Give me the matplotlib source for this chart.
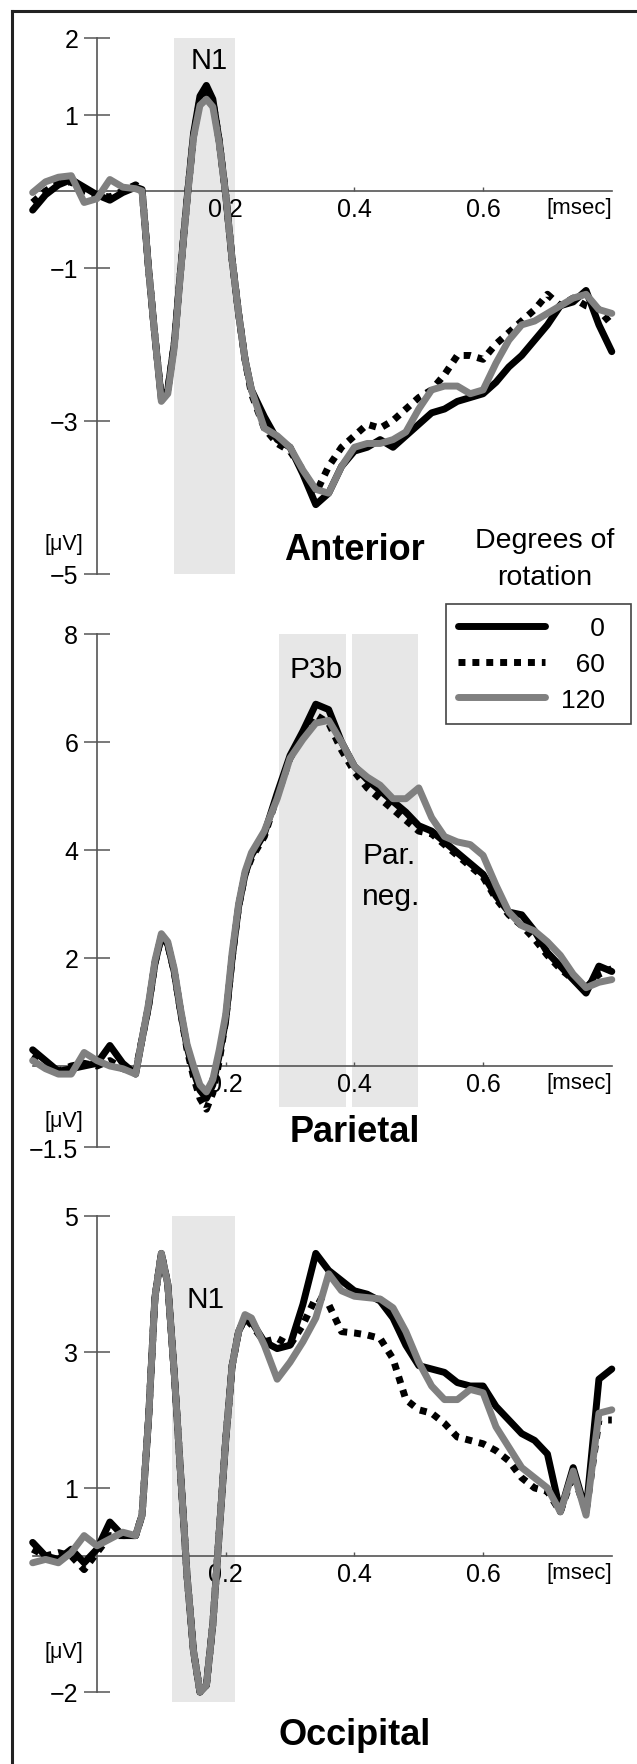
import matplotlib
matplotlib.use("Agg")
import matplotlib.pyplot as plt
from matplotlib.lines import Line2D

plt.rcParams['font.family'] = ['Liberation Sans', 'DejaVu Sans']

# time axis [s], shared by the three panels
t = [-0.10, -0.08, -0.06, -0.04, -0.02, 0.00, 0.02, 0.04, 0.06, 0.07,
     0.08, 0.09, 0.10, 0.11, 0.12, 0.13, 0.14, 0.15, 0.16, 0.17,
     0.18, 0.19, 0.20, 0.21, 0.22, 0.23, 0.24, 0.26, 0.28, 0.30,
     0.32, 0.34, 0.36, 0.38, 0.40, 0.42, 0.44, 0.46, 0.48, 0.50,
     0.52, 0.54, 0.56, 0.58, 0.60, 0.62, 0.64, 0.66, 0.68, 0.70,
     0.72, 0.74, 0.76, 0.78, 0.80]

rotations = ['0', '60', '120']

# Anterior [uV]
ant_0 = [-0.25, -0.05, 0.08, 0.15, 0.05, -0.05, -0.12, -0.02, 0.05, 0.02,
         -1.0, -1.9, -2.72, -2.6, -2.0, -1.03, -0.1, 0.75, 1.24, 1.38,
         1.2, 0.65, -0.05, -0.9, -1.6, -2.2, -2.6, -2.95, -3.25, -3.35,
         -3.7, -4.1, -3.95, -3.6, -3.4, -3.35, -3.25, -3.35, -3.2, -3.05,
         -2.9, -2.85, -2.75, -2.7, -2.65, -2.5, -2.3, -2.15, -1.95, -1.75,
         -1.5, -1.45, -1.3, -1.75, -2.1]
ant_60 = [-0.15, 0.0, 0.1, 0.12, 0.0, -0.05, -0.08, 0.0, 0.08, 0.02,
          -1.0, -1.9, -2.7, -2.6, -2.0, -1.03, -0.1, 0.72, 1.2, 1.33,
          1.18, 0.65, -0.05, -0.9, -1.6, -2.2, -2.65, -3.1, -3.3, -3.4,
          -3.65, -3.95, -3.6, -3.35, -3.2, -3.05, -3.1, -3.0, -2.85, -2.7,
          -2.6, -2.4, -2.15, -2.15, -2.2, -2.0, -1.85, -1.7, -1.55, -1.35,
          -1.5, -1.4, -1.5, -1.55, -1.75]
ant_120 = [-0.02, 0.12, 0.18, 0.2, -0.15, -0.1, 0.15, 0.05, 0.03, 0.0,
           -1.0, -1.9, -2.75, -2.65, -2.05, -1.05, -0.12, 0.7, 1.12, 1.2,
           1.1, 0.62, -0.05, -0.9, -1.6, -2.2, -2.6, -3.1, -3.2, -3.35,
           -3.65, -3.9, -3.95, -3.6, -3.35, -3.3, -3.3, -3.25, -3.15, -2.85,
           -2.6, -2.55, -2.55, -2.65, -2.6, -2.25, -1.95, -1.75, -1.7, -1.6,
           -1.5, -1.4, -1.35, -1.55, -1.6]

# Parietal [uV]
par_0 = [0.3, 0.1, -0.1, -0.05, 0.0, 0.05, 0.38, 0.05, -0.15, 0.5,
         1.1, 1.9, 2.4, 2.25, 1.75, 1.0, 0.35, -0.1, -0.45, -0.6,
         -0.35, 0.2, 0.85, 2.0, 2.95, 3.55, 3.9, 4.3, 5.05, 5.75,
         6.2, 6.7, 6.6, 6.0, 5.55, 5.3, 5.1, 4.9, 4.7, 4.45,
         4.35, 4.15, 3.95, 3.75, 3.55, 3.15, 2.85, 2.8, 2.5, 2.1,
         1.85, 1.6, 1.35, 1.85, 1.75]
par_60 = [0.2, 0.05, -0.1, 0.0, 0.05, 0.0, 0.1, -0.05, -0.1, 0.5,
          1.1, 1.9, 2.4, 2.25, 1.75, 1.0, 0.3, -0.2, -0.6, -0.8,
          -0.5, 0.1, 0.85, 2.0, 2.95, 3.55, 3.85, 4.25, 5.0, 5.7,
          6.1, 6.5, 6.35, 5.85, 5.45, 5.15, 4.95, 4.75, 4.55, 4.35,
          4.3, 4.1, 3.9, 3.7, 3.5, 3.1, 2.8, 2.6, 2.35, 2.05,
          1.8, 1.6, 1.45, 1.7, 1.8]
par_120 = [0.1, -0.05, -0.15, -0.15, 0.25, 0.1, 0.0, -0.05, -0.15, 0.5,
           1.15, 1.95, 2.45, 2.3, 1.8, 1.05, 0.4, 0.0, -0.35, -0.48,
           -0.25, 0.3, 0.95, 2.1, 3.0, 3.6, 3.95, 4.35, 4.95, 5.7,
           6.05, 6.35, 6.4, 6.0, 5.55, 5.35, 5.2, 4.95, 4.95, 5.15,
           4.6, 4.25, 4.15, 4.1, 3.9, 3.35, 2.85, 2.6, 2.5, 2.3,
           2.05, 1.7, 1.45, 1.55, 1.6]

# Occipital [uV]
occ_0 = [0.2, 0.0, -0.05, 0.1, -0.1, 0.1, 0.5, 0.3, 0.3, 0.6,
         2.0, 3.8, 4.45, 4.0, 2.7, 1.2, -0.3, -1.4, -2.0, -1.9,
         -1.0, 0.35, 1.7, 2.8, 3.3, 3.5, 3.45, 3.15, 3.05, 3.1,
         3.7, 4.45, 4.2, 4.05, 3.9, 3.85, 3.75, 3.5, 3.1, 2.8,
         2.75, 2.7, 2.55, 2.5, 2.5, 2.2, 2.0, 1.8, 1.7, 1.5,
         0.65, 1.3, 0.65, 2.6, 2.75]
occ_60 = [0.1, 0.0, 0.05, 0.0, -0.2, 0.05, 0.3, 0.3, 0.3, 0.6,
          2.0, 3.8, 4.45, 4.0, 2.7, 1.2, -0.3, -1.4, -2.0, -1.9,
          -1.0, 0.35, 1.7, 2.8, 3.3, 3.5, 3.4, 3.15, 3.2, 3.1,
          3.4, 3.8, 3.7, 3.3, 3.28, 3.25, 3.2, 2.9, 2.3, 2.15,
          2.1, 1.95, 1.75, 1.7, 1.65, 1.55, 1.4, 1.15, 1.0, 0.95,
          0.65, 1.2, 0.65, 2.0, 2.0]
occ_120 = [-0.1, -0.05, -0.1, 0.05, 0.3, 0.15, 0.25, 0.35, 0.3, 0.6,
           2.0, 3.8, 4.45, 4.0, 2.7, 1.2, -0.3, -1.4, -2.0, -1.9,
           -1.0, 0.35, 1.7, 2.8, 3.3, 3.55, 3.5, 3.1, 2.6, 2.85,
           3.15, 3.5, 4.15, 3.9, 3.82, 3.8, 3.78, 3.65, 3.3, 2.85,
           2.5, 2.3, 2.3, 2.45, 2.4, 1.9, 1.6, 1.3, 1.15, 1.0,
           0.65, 1.25, 0.6, 2.1, 2.15]

# shaded windows (t0, t1, v_bottom, v_top)
ant_bands = [(0.12, 0.215, -5, 2)]
par_bands = [(0.283, 0.387, -0.75, 8), (0.396, 0.499, -0.75, 8)]
occ_bands = [(0.116, 0.214, -2.15, 5)]

ant_yticks = [2, 1, -1, -3, -5]
par_yticks = [8, 6, 4, 2, -1.5]
occ_yticks = [5, 3, 1, -2]

W, H = 637, 1765
fig = plt.figure(figsize=(W / 100, H / 100), dpi=100)

PX_S = 643.5          # pixels per second
X0 = 97               # pixel of t = 0
XLIM = (-0.11, 0.81)
LW = 5.0


def make_axes(zero_px, px_unit, ylim):
    left = X0 + XLIM[0] * PX_S
    right = X0 + XLIM[1] * PX_S
    top = zero_px - ylim[1] * px_unit
    bottom = zero_px - ylim[0] * px_unit
    ax = fig.add_axes([left / W, 1 - bottom / H, (right - left) / W, (bottom - top) / H])
    ax.set_xlim(*XLIM)
    ax.set_ylim(*ylim)
    ax.patch.set_alpha(0)
    return ax


def draw_panel(ax, s0, s60, s120, bands, yticks):
    for b in bands:
        ax.fill_between([b[0], b[1]], b[2], b[3], color='#e7e7e7', lw=0, zorder=0)
    lines = []
    lines += ax.plot(t, s0, color='black', lw=LW, solid_capstyle='round',
                     solid_joinstyle='round', zorder=3)
    lines += ax.plot(t, s60, color='black', lw=LW, linestyle=(0, (1, 1)),
                     dash_capstyle='butt', zorder=4)
    lines += ax.plot(t, s120, color='#808080', lw=LW, solid_capstyle='round',
                     solid_joinstyle='round', zorder=5)
    for side in ['top', 'right']:
        ax.spines[side].set_visible(False)
    ax.spines['left'].set_position(('data', 0))
    ax.spines['bottom'].set_position(('data', 0))
    ax.spines['left'].set_bounds(min(yticks), max(yticks))
    ax.spines['bottom'].set_bounds(-0.1, 0.8)
    for side in ['left', 'bottom']:
        ax.spines[side].set_linewidth(1.2)
        ax.spines[side].set_color('#555555')
    ax.set_yticks(yticks)
    ax.set_yticklabels([('%g' % v).replace('-', '\u2212') for v in yticks])
    ax.set_xticks([0.2, 0.4, 0.6])
    ax.set_xticklabels(['0.2', '0.4', '0.6'])
    ax.tick_params(axis='y', direction='inout', length=19, width=1.1,
                   color='#555555', pad=4, labelsize=18)
    ax.tick_params(axis='x', direction='in', length=3, width=1.0,
                   color='#555555', pad=4, labelsize=18)
    ax.annotate('[msec]', xy=(0.8, 0), xytext=(0, -4), textcoords='offset points',
                ha='right', va='top', fontsize=16)
    return lines


ax1 = make_axes(192, 76.5, (-5.25, 2.25))
lines = draw_panel(ax1, ant_0, ant_60, ant_120, ant_bands, ant_yticks)
ax1.text(0.174, 1.71, 'N1', ha='center', va='center', fontsize=21)
ax1.text(-0.051, -4.61, '[\u03bcV]', ha='center', va='center', fontsize=15.5)
ax1.text(0.40, -4.81, 'Anterior', ha='center', va='baseline', fontsize=26, fontweight='bold')
ax1.text(0.696, -4.65, 'Degrees of', ha='center', va='baseline', fontsize=20.5)
ax1.text(0.696, -5.14, 'rotation', ha='center', va='baseline', fontsize=20.5)

ax2 = make_axes(1067, 54, (-1.6, 8.3))
draw_panel(ax2, par_0, par_60, par_120, par_bands, par_yticks)
ax2.text(0.34, 7.35, 'P3b', ha='center', va='center', fontsize=21.5)
ax2.text(0.412, 3.9, 'Par.', ha='left', va='center', fontsize=21.5)
ax2.text(0.412, 3.15, 'neg.', ha='left', va='center', fontsize=21.5)
ax2.text(-0.052, -1.0, '[\u03bcV]', ha='center', va='center', fontsize=15.5)
ax2.text(0.40, -1.39, 'Parietal', ha='center', va='baseline', fontsize=26, fontweight='bold')

ax3 = make_axes(1557, 68, (-2.9, 5.2))
draw_panel(ax3, occ_0, occ_60, occ_120, occ_bands, occ_yticks)
ax3.text(0.168, 3.78, 'N1', ha='center', va='center', fontsize=21.5)
ax3.text(-0.052, -1.41, '[\u03bcV]', ha='center', va='center', fontsize=15.5)
ax3.text(0.40, -2.77, 'Occipital', ha='center', va='baseline', fontsize=26, fontweight='bold')

# legend, labels padded with figure spaces so the numbers line up on the right
labels = [('\u2007' * (3 - len(r))) + r + '\u2007' for r in rotations]
leg = fig.legend(lines, labels, loc='upper left', bbox_to_anchor=(446 / W, 1 - 605 / H),
                 frameon=True, fancybox=False, edgecolor='#444444', framealpha=1,
                 handlelength=3.3, handletextpad=0.6, borderpad=0.45,
                 labelspacing=0.45, fontsize=19, borderaxespad=0)
leg.get_frame().set_linewidth(1.2)

# frame of the original figure (left and top edges only)
fig.add_artist(Line2D([11.5 / W, 11.5 / W], [0, 1 - 11.5 / H], color='#222222', lw=2.2))
fig.add_artist(Line2D([11.5 / W, 1], [1 - 11.5 / H, 1 - 11.5 / H], color='#222222', lw=2.2))

fig.savefig('out.png', dpi=100)
